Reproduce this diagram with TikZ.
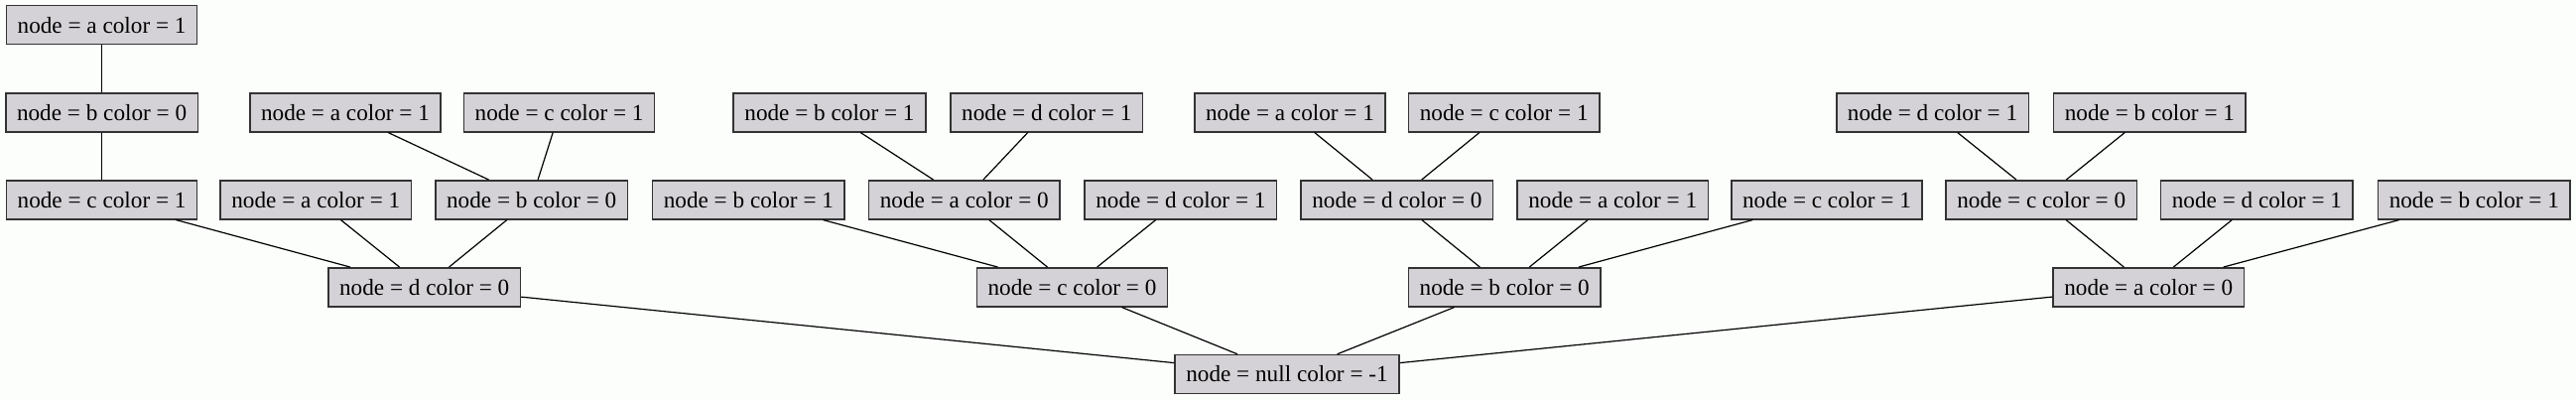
\documentclass[tikz,border=0pt]{standalone}
\usepackage{fontspec}
\setmainfont{Liberation Serif}
\usepackage{tikz}
\definecolor{boxfill}{HTML}{D4D2D6}
\definecolor{boxline}{HTML}{333333}
\definecolor{paper}{HTML}{FCFEFC}
\begin{document}
\begin{tikzpicture}[x=0.5pt,y=-0.5pt,
    box/.style={draw=boxline,fill=boxfill,line width=0.75pt,inner xsep=5.6pt,
      inner ysep=0pt,minimum height=19.5pt,font=\fontsize{11.6}{12}\selectfont},
    link/.style={line width=0.6pt}]
  \fill[paper] (0,0) rectangle (2596,403);
  \useasboundingbox (0,0) rectangle (2596,403);
  \node[box] (t1) at (102.6,25.2) {node = a color = 1};
  \node[box] (s1) at (102.6,113.3) {node = b color = 0};
  \node[box] (s2) at (348,113.3) {node = a color = 1};
  \node[box] (s3) at (563.6,113.3) {node = c color = 1};
  \node[box] (s4) at (836,113.3) {node = b color = 1};
  \node[box] (s5) at (1054.8,113.3) {node = d color = 1};
  \node[box] (s6) at (1300,113.3) {node = a color = 1};
  \node[box] (s7) at (1515.7,113.3) {node = c color = 1};
  \node[box] (s8) at (1947.5,113.3) {node = d color = 1};
  \node[box] (s9) at (2166.4,113.3) {node = b color = 1};
  \node[box] (m1) at (102.6,201.3) {node = c color = 1};
  \node[box] (m2) at (318.3,201.3) {node = a color = 1};
  \node[box] (m3) at (535.7,201.3) {node = b color = 0};
  \node[box] (m4) at (754.4,201.3) {node = b color = 1};
  \node[box] (m5) at (971.8,201.3) {node = a color = 0};
  \node[box] (m6) at (1189.9,201.3) {node = d color = 1};
  \node[box] (m7) at (1407.9,201.3) {node = d color = 0};
  \node[box] (m8) at (1625.2,201.3) {node = a color = 1};
  \node[box] (m9) at (1841,201.3) {node = c color = 1};
  \node[box] (m10) at (2057.2,201.3) {node = c color = 0};
  \node[box] (m11) at (2274.4,201.3) {node = d color = 1};
  \node[box] (m12) at (2493.3,201.3) {node = b color = 1};
  \node[box] (l1) at (427.7,289.3) {node = d color = 0};
  \node[box] (l2) at (1080.5,289.3) {node = c color = 0};
  \node[box] (l3) at (1516.2,289.3) {node = b color = 0};
  \node[box] (l4) at (2165.2,289.3) {node = a color = 0};
  \node[box] (root) at (1297,377) {node = null color = -1};
  \draw[link] (t1) to (s1);
  \draw[link] (s1) to (m1);
  \draw[link] (s2) to (m3);
  \draw[link] (s3) to (m3);
  \draw[link] (s4) to (m5);
  \draw[link] (s5) to (m5);
  \draw[link] (s6) to (m7);
  \draw[link] (s7) to (m7);
  \draw[link] (s8) to (m10);
  \draw[link] (s9) to (m10);
  \draw[link] (m1) to (l1);
  \draw[link] (m2) to (l1);
  \draw[link] (m3) to (l1);
  \draw[link] (m4) to (l2);
  \draw[link] (m5) to (l2);
  \draw[link] (m6) to (l2);
  \draw[link] (m7) to (l3);
  \draw[link] (m8) to (l3);
  \draw[link] (m9) to (l3);
  \draw[link] (m10) to (l4);
  \draw[link] (m11) to (l4);
  \draw[link] (m12) to (l4);
  \draw[link] (l1) to (root);
  \draw[link] (l2) to (root);
  \draw[link] (l3) to (root);
  \draw[link] (l4) to (root);
\end{tikzpicture}
\end{document}
